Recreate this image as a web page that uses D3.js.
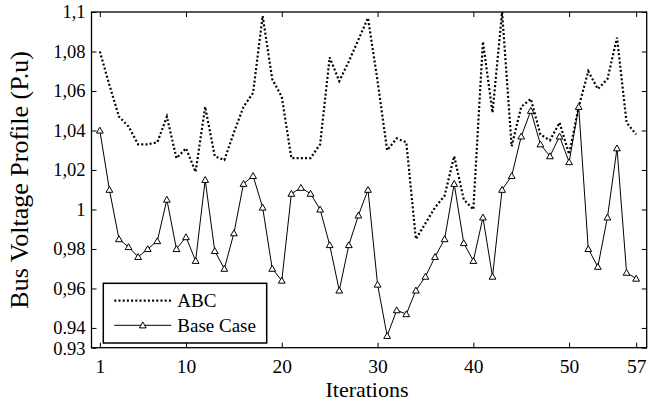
<!DOCTYPE html>
<html>
<head>
<meta charset="utf-8">
<script src="https://cdn.jsdelivr.net/npm/d3@7"></script>
<style>
  body { margin: 0; background: #fff; }
</style>
</head>
<body>
<div class="viz-container"></div>
<script>
const iterations = d3.range(1, 58);

const abcValues = [
    1.080, 1.063, 1.047, 1.042, 1.033, 1.033, 1.034, 1.047, 1.026, 1.031,
    1.019, 1.052, 1.027, 1.025, 1.039, 1.052, 1.059, 1.098, 1.066, 1.057,
    1.026, 1.026, 1.026, 1.033, 1.077, 1.065, 1.075, 1.086, 1.097, 1.065,
    1.030, 1.036, 1.034, 0.985, 0.993, 1.001, 1.007, 1.027, 1.005, 1.000,
    1.085, 1.049, 1.100, 1.032, 1.052, 1.056, 1.038, 1.035, 1.044, 1.028,
    1.052, 1.070, 1.061, 1.066, 1.087, 1.044, 1.038
];

const baseValues = [
    1.040, 1.010, 0.985, 0.981, 0.976, 0.980, 0.984, 1.005, 0.980, 0.986,
    0.974, 1.015, 0.979, 0.970, 0.988, 1.013, 1.017, 1.001, 0.970, 0.964,
    1.008, 1.011, 1.008, 1.000, 0.982, 0.959, 0.982, 0.997, 1.010, 0.962,
    0.936, 0.949, 0.947, 0.959, 0.966, 0.976, 0.985, 1.013, 0.983, 0.974,
    0.996, 0.966, 1.010, 1.017, 1.037, 1.050, 1.033, 1.027, 1.037, 1.024,
    1.052, 0.980, 0.971, 0.996, 1.031, 0.968, 0.965
];

const xTicks = [1, 10, 20, 30, 40, 50, 57];
const yTicks = [0.93, 0.94, 0.96, 0.98, 1.00, 1.02, 1.04, 1.06, 1.08, 1.10];
const yTickLabels = ["0.93", "0.94", "0,96", "0,98", "1", "1,02", "1,04", "1,06", "1,08", "1,1"];

const seriesNames = ["ABC", "Base Case"];

const width = 662;
const height = 403;
const plot = { left: 91.5, right: 646.7, top: 12, bottom: 347.7 };
const serif = "'Liberation Serif', 'Times New Roman', 'DejaVu Serif', serif";

const svg = d3.select(".viz-container")
              .append("svg")
              .attr("width", width)
              .attr("height", height);

const x = d3.scaleLinear()
            .domain([0.13, 58.1])
            .range([plot.left, plot.right]);

const y = d3.scaleLinear()
            .domain([0.93, 1.1])
            .range([plot.bottom, plot.top]);

const tickLen = 5;
const fmt = d => yTickLabels[yTicks.indexOf(d)];

// axes, ticks pointing inward on all four sides
svg.append("g")
   .attr("transform", `translate(0,${plot.bottom})`)
   .call(d3.axisBottom(x).tickValues(xTicks).tickSizeInner(-tickLen).tickSizeOuter(0).tickPadding(11))
   .call(g => g.select(".domain").remove())
   .selectAll("text")
   .style("font-size", "19.5px");

svg.append("g")
   .attr("transform", `translate(0,${plot.top})`)
   .call(d3.axisTop(x).tickValues(xTicks).tickSizeInner(-tickLen).tickSizeOuter(0).tickFormat(""))
   .call(g => g.select(".domain").remove());

const yAxis = svg.append("g")
                 .attr("transform", `translate(${plot.left},0)`)
                 .call(d3.axisLeft(y).tickValues(yTicks).tickSizeInner(-tickLen).tickSizeOuter(0).tickPadding(6).tickFormat(fmt))
                 .call(g => g.select(".domain").remove());

yAxis.selectAll("text")
     .style("font-size", "18.5px")
     .attr("y", d => d === 0.93 ? 1.2 : 0);

svg.append("g")
   .attr("transform", `translate(${plot.right},0)`)
   .call(d3.axisRight(y).tickValues(yTicks).tickSizeInner(-tickLen).tickSizeOuter(0).tickFormat(""))
   .call(g => g.select(".domain").remove());

svg.selectAll(".tick line")
   .attr("stroke", "#000")
   .attr("stroke-width", 1);

svg.append("rect")
   .attr("x", plot.left)
   .attr("y", plot.top)
   .attr("width", plot.right - plot.left)
   .attr("height", plot.bottom - plot.top)
   .attr("fill", "none")
   .attr("stroke", "#000")
   .attr("stroke-width", 1.3);

const line = d3.line()
               .x((d, i) => x(iterations[i]))
               .y(d => y(d));

svg.append("path")
   .datum(abcValues)
   .attr("d", line)
   .attr("fill", "none")
   .attr("stroke", "#000")
   .attr("stroke-width", 2.2)
   .attr("stroke-dasharray", "2,2.2");

svg.append("path")
   .datum(baseValues)
   .attr("d", line)
   .attr("fill", "none")
   .attr("stroke", "#000")
   .attr("stroke-width", 1);

const tri = "M0,-3.3L3.4,2.6L-3.4,2.6Z";

svg.selectAll(".marker")
   .data(baseValues)
   .enter()
   .append("path")
   .attr("class", "marker")
   .attr("d", tri)
   .attr("transform", (d, i) => `translate(${x(iterations[i])},${y(d)})`)
   .attr("fill", "#fff")
   .attr("stroke", "#000")
   .attr("stroke-width", 1);

// axis titles
svg.append("text")
   .attr("x", 367)
   .attr("y", 397)
   .attr("text-anchor", "middle")
   .style("font-size", "22px")
   .text("Iterations");

svg.append("text")
   .attr("transform", `translate(28,${(plot.top + plot.bottom) / 2}) rotate(-90)`)
   .attr("text-anchor", "middle")
   .style("font-size", "26px")
   .text("Bus Voltage Profile (P.u)");

// legend
const legend = svg.append("g")
                  .attr("transform", "translate(103.3,283.3)");

legend.append("rect")
      .attr("width", 163.4)
      .attr("height", 59.7)
      .attr("fill", "#fff")
      .attr("stroke", "#000")
      .attr("stroke-width", 1.5);

seriesNames.forEach((name, i) => {
    const ly = 17.4 + i * 24.6;

    legend.append("line")
          .attr("x1", 11)
          .attr("x2", 68)
          .attr("y1", ly)
          .attr("y2", ly)
          .attr("stroke", "#000")
          .attr("stroke-width", i === 0 ? 2.2 : 1)
          .attr("stroke-dasharray", i === 0 ? "2,2.2" : null);

    if (i === 1) {
        legend.append("path")
              .attr("d", tri)
              .attr("transform", `translate(39.5,${ly})`)
              .attr("fill", "#fff")
              .attr("stroke", "#000");
    }

    legend.append("text")
          .attr("x", 74)
          .attr("y", ly + 6.5)
          .style("font-size", "19px")
          .text(name);
});

svg.selectAll("text")
   .style("font-family", serif)
   .attr("fill", "#000");
</script>
</body>
</html>
